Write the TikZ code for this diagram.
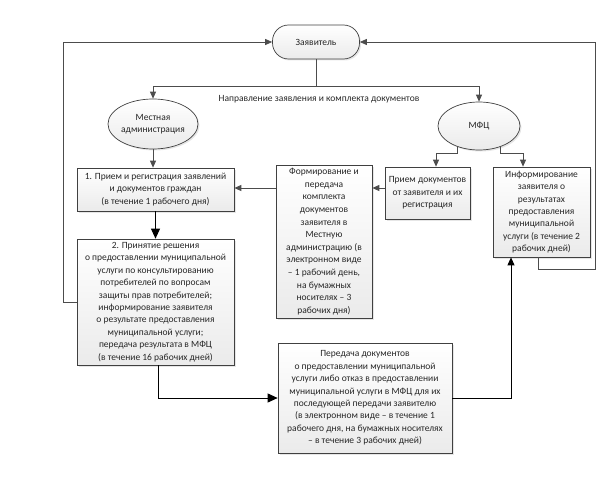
\documentclass[tikz,border=0pt]{standalone}
\usepackage{fontspec}
\setmainfont{Carlito}
\usetikzlibrary{shapes.geometric,shadows,arrows.meta,calc}
\begin{document}
\begin{tikzpicture}[x=1pt,y=-1pt,
  every node/.style={font=\fontsize{9.5}{12.4}\selectfont, text=black!85},
  shade/.style={top color=white, bottom color=black!8,
    drop shadow={opacity=0.2,shadow xshift=1.5pt,shadow yshift=-1.5pt}},
  box/.style={shade, draw=black!75, line width=0.7pt, align=center, inner sep=2pt},
  oval/.style={shade, draw=black!75, line width=0.7pt, ellipse, align=center, inner sep=0pt},
  garr/.style={draw=black!70, line width=0.8pt, -{Triangle[length=7pt,width=6pt]}},
  gline/.style={draw=black!70, line width=0.8pt},
  barr/.style={draw=black, line width=0.9pt, -{Triangle[length=8pt,width=7pt]}},
  bigarr/.style={draw=black, line width=0.9pt, -{Triangle[length=10pt,width=9pt]}}
]
\useasboundingbox (0,0) rectangle (609,484);

\node[shade, draw=black!75, line width=0.7pt, rounded corners=16pt,
  minimum width=87pt, minimum height=34pt] (zayav) at (316,42) {Заявитель};

\node[oval, minimum width=80pt, minimum height=50pt] (mest) at (153,124)
  {Местная\\администрация};
\node[oval, minimum width=82pt, minimum height=48pt] (mfc) at (479,126) {МФЦ};

\node (lbl) at (319,99) {Направление заявления и комплекта документов};

\node[box, minimum width=157pt, minimum height=43pt] (b1) at (155.5,189.5)
  {1. Прием и регистрация заявлений\\и документов граждан\\(в течение 1 рабочего дня)};

\node[box, minimum width=157pt, minimum height=126pt] (b2) at (155.5,302)
  {2. Принятие решения\\о предоставлении муниципальной\\услуги по консультированию\\потребителей по вопросам\\защиты прав потребителей;\\информирование заявителя\\о результате предоставления\\муниципальной услуги;\\передача результата в МФЦ\\(в течение 16 рабочих дней)};

\node[box, minimum width=96pt, minimum height=153pt,
  font=\fontsize{9.5}{12.6}\selectfont] (form) at (324,241.5)
  {Формирование и\\передача\\комплекта\\документов\\заявителя в\\Местную\\администрацию (в\\электронном виде\\– 1 рабочий день,\\на бумажных\\носителях – 3\\рабочих дня)};

\node[box, minimum width=85pt, minimum height=52pt] (priem) at (427.5,193)
  {Прием документов\\от заявителя и их\\регистрация};

\node[box, minimum width=97pt, minimum height=90pt] (inf) at (541.5,212)
  {Информирование\\заявителя о\\результатах\\предоставления\\муниципальной\\услуги (в течение 2\\рабочих дней)};

\node[box, minimum width=174pt, minimum height=110pt] (per) at (365,398)
  {Передача документов\\о предоставлении муниципальной\\услуги либо отказ в предоставлении\\муниципальной услуги в МФЦ для их\\последующей передачи заявителю\\(в электронном виде – в течение 1\\рабочего дня, на бумажных носителях\\– в течение 3 рабочих дней)};

% top distribution
\coordinate (t) at (316,86);
\draw[gline] (zayav.south) -- (t);
\draw[garr] (t) -| (mest.north);
\draw[garr] (t) -| (mfc.north);

% left feedback loop
\draw[garr] (b2.west) -- ++(-13,0) |- (zayav.west);

% right feedback loop
\coordinate (ib) at (538,257);
\coordinate (R) at (595,269);
\draw[garr] (ib) |- (R) |- (zayav.east);

% Mestnaya -> b1
\draw[garr] (mest.south) -- (mest.south |- b1.north);
% b1 -> b2
\draw[bigarr] (b1.south) -- (b2.north);

% MFC branches
\coordinate (m1) at (436,153);
\coordinate (m2) at (523,153);
\draw[garr] (mfc.224) |- (m1) -- (m1 |- priem.north);
\draw[garr] (mfc.316) |- (m2) -- (m2 |- inf.north);

% priem -> form -> b1
\draw[garr] (priem.west |- 0,188) -- (form.east |- 0,188);
\draw[garr] (form.west |- 0,188) -- (b1.east |- 0,188);

% b2 -> per
\coordinate (bb) at (158,398);
\draw[bigarr] (b2.south -| bb) -- (bb) -- (per.west);

% per -> inf
\coordinate (pr) at (511,398);
\draw[barr] (per.east) -- (pr) -- (pr |- inf.south);
\end{tikzpicture}
\end{document}
